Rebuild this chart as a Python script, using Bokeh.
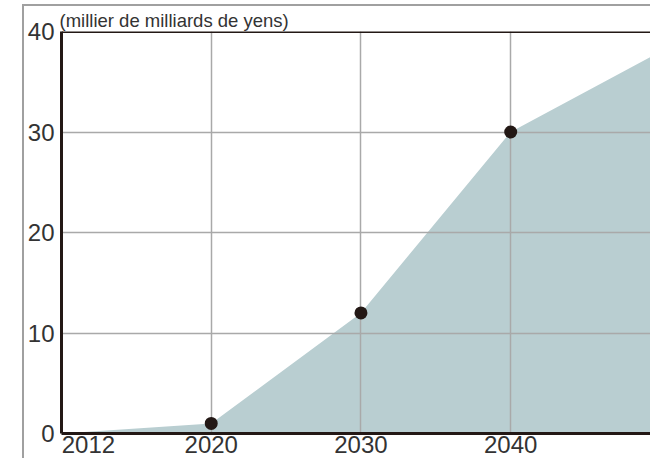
from bokeh.plotting import figure
from bokeh.models import ColumnDataSource, FixedTicker, Span, Title
from bokeh.embed import file_html
from bokeh.resources import INLINE

# ---- data ----
years = ["2012", "2020", "2030", "2040", "2050"]
values = [0.0, 1.0, 12.0, 30.0, 38.0]
dot_years = ["2020", "2030", "2040", "2050"]
y_ticks = [0, 10, 20, 30, 40]
unit_label = "(millier de milliards de yens)"

idx = list(range(len(years)))
dot_idx = [years.index(y) for y in dot_years]
dot_vals = [values[i] for i in dot_idx]

# the first year label is drawn starting at the axis origin (not centred):
# shift its (invisible) tick by half a label width, in axis units
FIRST_LABEL_SHIFT = 0.18
label_pos = [i + (FIRST_LABEL_SHIFT if i == 0 else 0) for i in idx]

DARK = "#231815"
GRID = "#a9a9a9"
FILL = "#b9ced1"
TXT = "#333333"
FONT = "Liberation Sans"

p = figure(width=628, height=454, x_range=(0, 3.947), y_range=(0, 40),
           output_backend="svg", toolbar_location=None,
           min_border_left=34, min_border_right=0, min_border_top=25,
           min_border_bottom=27)
p.margin = (4, 0, 0, 22)
p.styles = {"border-left": "2px solid #a0a0a0", "border-top": "2px solid #a0a0a0"}
p.outline_line_color = None
p.background_fill_color = "white"
p.border_fill_color = "white"

p.title = Title(text=unit_label, align="left", offset=-2, standoff=1,
                text_font=FONT, text_font_size="18.5px", text_font_style="normal",
                text_color=TXT)

area_src = ColumnDataSource(dict(x=idx, y=values, y0=[0] * len(idx)))
p.varea(x="x", y1="y0", y2="y", source=area_src, fill_color=FILL, level="image")

dot_src = ColumnDataSource(dict(x=dot_idx, y=dot_vals))
p.scatter(x="x", y="y", source=dot_src, size=13, fill_color=DARK, line_color=None)

# grids
p.xgrid.ticker = FixedTicker(ticks=idx)
p.ygrid.ticker = FixedTicker(ticks=y_ticks)
for g in (p.xgrid, p.ygrid):
    g.grid_line_color = GRID
    g.grid_line_width = 1.5

# x axis
xa = p.xaxis[0]
xa.ticker = FixedTicker(ticks=label_pos)
xa.major_label_overrides = {pos: yr for pos, yr in zip(label_pos, years)}
# y axis
ya = p.yaxis[0]
ya.ticker = FixedTicker(ticks=y_ticks)
for ax in (xa, ya):
    ax.axis_line_color = DARK
    ax.axis_line_width = 3
    ax.major_tick_line_color = None
    ax.minor_tick_line_color = None
    ax.major_tick_out = 0
    ax.major_tick_in = 0
    ax.major_label_text_font = FONT
    ax.major_label_text_font_size = "24px"
    ax.major_label_text_color = TXT
xa.major_label_standoff = 2
ya.major_label_standoff = 7

# top frame line
p.add_layout(Span(location=40, dimension="width", line_color=DARK, line_width=3))

open("out.html", "w").write(file_html(p, INLINE))
